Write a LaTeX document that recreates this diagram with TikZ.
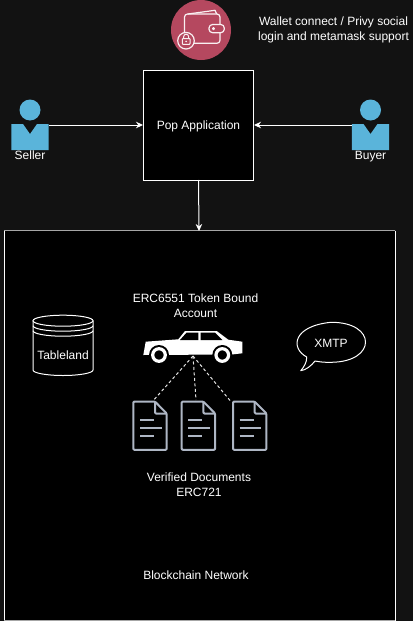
\documentclass[tikz,border=0pt]{standalone}
\usepackage{fontspec}
\setmainfont{Liberation Sans}
\usetikzlibrary{arrows.meta}
\definecolor{bg}{HTML}{121212}
\definecolor{person}{HTML}{5AB4DA}
\definecolor{walletred}{HTML}{B5485F}
\definecolor{docline}{HTML}{AEB6C4}
\definecolor{edgegray}{HTML}{A6A6A6}
\tikzset{
  panel/.style={draw=white,fill=black,line width=1pt,inner sep=0pt},
  label/.style={text=white,font=\fontsize{12}{15}\selectfont,align=center,inner sep=0pt},
  link/.style={draw=white,line width=1pt,-{Stealth[length=7pt,width=6.5pt]}},
  dotlink/.style={draw=white!90!black,line width=1pt,dash pattern=on 3pt off 2.5pt},
  icon/.style={draw=white,line width=1pt},
  wicon/.style={draw=white!92!walletred,line width=1.2pt,line join=round},
  docicon/.style={draw=docline,line width=2pt,line join=round,rounded corners=1pt},
  persona/.style={fill=person,draw=none},
}
\newcommand{\docsheet}[1]{%
  \begin{scope}[shift={(#1,0)}]
    \draw[docicon] (133.3,401.6) -- (155,401.6) -- (166.7,413.5) -- (166.7,449.8) -- (133.3,449.8) -- cycle;
    \draw[docicon] (155,401.6) -- (155,413.5) -- (166.7,413.5);
    \draw[draw=docline,line width=1.5pt] (140,420) -- (154,420) (140,428) -- (161.5,428) (140,436) -- (154,436);
  \end{scope}}
\newcommand{\personicon}[1]{%
  \begin{scope}[shift={(#1,0)}]
    \fill[persona] (0,110) circle (10.5);
    \fill[persona] (-18.7,124) -- (-7,124) -- (0,134) -- (7,124) -- (18.7,124) -- (18.7,150) -- (-18.7,150) -- cycle;
  \end{scope}}
\begin{document}
\begin{tikzpicture}[x=1pt,y=-1pt]
\useasboundingbox (0,0) rectangle (413,621);
\fill[bg] (0,0) rectangle (413,621);
% main panels
\node[panel,draw=none,minimum width=390pt,minimum height=389.5pt] (chainbox) at (199.5,425.75) {};
\draw[white,line width=1pt] (chainbox.north west) -- (chainbox.south west) (chainbox.north east) -- (chainbox.south east);
\draw[edgegray,line width=1.6pt] (chainbox.north west) -- (chainbox.north east) (chainbox.south west) -- (chainbox.south east);
\node[panel,minimum width=110pt,minimum height=110pt] (pop) at (198.5,125) {};
\node[label] (poplabel) at (198.5,126) {Pop Application};
% wallet
\fill[walletred] (201,30) circle (30);
\draw[wicon] (188,14) -- (215,10.3) -- (216.7,14);
\draw[wicon,rounded corners=3pt] (184.5,33) -- (184.5,14) -- (220,14) -- (220,24);
\draw[wicon,rounded corners=3pt] (220,33) -- (220,43.3) -- (193,43.3);
\draw[wicon,fill=walletred,rounded corners=3.5pt] (224.3,24.5) -- (209,24.5) -- (209,32.7) -- (224.3,32.7) -- cycle;
\draw[wicon,line width=1pt] (213.5,28.6) circle (1.1);
\draw[wicon,fill=walletred] (186,40.7) circle (8.3);
\draw[wicon,line width=1pt,rounded corners=0.6pt] (182.3,38.6) rectangle (190,44.3);
\draw[wicon,line width=1pt] (183.7,38.6) -- (183.7,36.6) arc[start angle=180,end angle=0,x radius=2.45,y radius=-2.45] -- (188.6,38.6);
\fill[white] (186.1,41.4) circle (0.9);
\node[label] (walletnote) at (333.5,30) {Wallet connect / Privy social\\login and metamask support};
% people
\personicon{30}
\personicon{370.5}
\node[label,anchor=base] (seller) at (30,159) {Seller};
\node[label,anchor=base] (buyer) at (370.5,159) {Buyer};
\coordinate (sellerhand) at (49,125);
\coordinate (buyerhand) at (352,125);
\coordinate (popbase) at (198.5,180);
\coordinate (chainin) at (199,231);
\draw[link] (sellerhand) -- (sellerhand -| pop.west);
\draw[link] (buyerhand) -- (buyerhand -| pop.east);
\draw[link] (popbase) -- (chainin);
% car
\node[label] (erc) at (195.5,305.5) {ERC6551 Token Bound\\Account};
\fill[white] (143.3,355) -- (145.7,341.7) -- (178.3,339.3) -- (185,331) -- (216.7,331) -- (228.3,339.7) -- (242.3,341.7) -- (242.3,353.3) -- (232,354.5) -- cycle;
\fill[black] (180,340) -- (186.7,332.5) -- (198.3,332.5) -- (198.3,340) -- cycle;
\fill[black] (200.7,332.5) -- (215,332.5) -- (222.3,340) -- (200.7,340) -- cycle;
\foreach \wx in {159,222.3}{
  \fill[black] (\wx,355) circle (10);
  \draw[white,line width=3.2pt] (\wx,355) circle (6.3);
}
\coordinate (carbase) at (193,356);
% docs
\docsheet{0}
\docsheet{48.4}
\docsheet{99.7}
\coordinate (doca) at (153.3,400.5);
\coordinate (docb) at (196,400);
\coordinate (docc) at (230,400.5);
\draw[dotlink] (carbase) -- (doca);
\draw[dotlink] (carbase) -- (docb);
\draw[dotlink] (carbase) -- (docc);
\node[label] (verified) at (199,485) {Verified Documents\\ERC721};
\node[label] (chain) at (196,575) {Blockchain Network};
% tableland
\draw[icon,fill=black] (33,320.7) -- (33,370) arc[start angle=180,end angle=360,x radius=30,y radius=-5.5] -- (93,320.7);
\draw[icon,fill=black] (63,320.7) ellipse (30 and 5.5);
\draw[icon] (33,325.7) arc[start angle=180,end angle=360,x radius=30,y radius=-5.5];
\draw[icon] (33,330.7) arc[start angle=180,end angle=360,x radius=30,y radius=-5.5];
\node[label] (tableland) at (63,355) {Tableland};
% xmtp
\draw[icon,line join=round] (306.7,357) .. controls (290,348) and (293,326) .. (331,322.3) .. controls (377,322) and (377,362) .. (331,362.3) .. controls (325,362.5) and (320,362) .. (315,361) .. controls (311,366) and (306,370) .. (300.7,370.7) .. controls (304,367) and (307,362) .. (306.7,357) -- cycle;
\node[label] (xmtp) at (331,343) {XMTP};
\end{tikzpicture}
\end{document}
